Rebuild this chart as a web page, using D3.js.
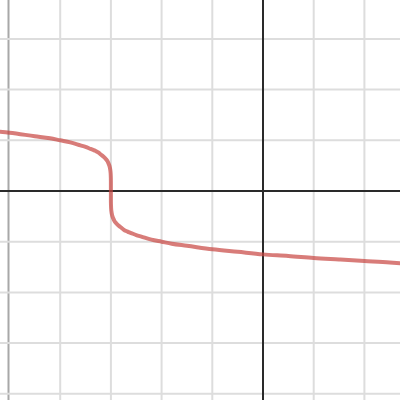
<!DOCTYPE html>
<html><head><meta charset="utf-8">
<script src="https://cdn.jsdelivr.net/npm/d3@7"></script>
<style>html,body{margin:0;padding:0;background:#fff;overflow:hidden}</style>
</head><body>
<svg id="c" width="400" height="400"></svg>
<script>
const xTicks = [-5, -4, -3, -2, -1, 1, 2];
const yTicks = [3, 2, 1, -1, -2, -3, -4];
const curveX = [-5.2, -5.0, -4.5, -4.2, -4.0, -3.8, -3.6, -3.5, -3.4, -3.35, -3.3, -3.25, -3.2, -3.15, -3.1, -3.07, -3.05, -3.03, -3.02, -3.01, -3.005, -3.003, -3.001, -3.0002, -3.0,
  -2.9998, -2.999, -2.997, -2.995, -2.99, -2.98, -2.97, -2.95, -2.93, -2.9, -2.85, -2.8, -2.75, -2.7, -2.65, -2.6, -2.5, -2.4, -2.2, -2.0, -1.8, -1.5, -1.0, -0.5, 0, 0.5, 1.0, 1.5, 2.0, 2.5, 2.75];
const curveY = [1.17, 1.15, 1.08, 1.04, 1.0, 0.96, 0.90, 0.87, 0.83, 0.81, 0.79, 0.76, 0.72, 0.68, 0.63, 0.59, 0.55, 0.50, 0.46, 0.40, 0.35, 0.31, 0.25, 0.18, 0,
  -0.18, -0.25, -0.31, -0.35, -0.40, -0.46, -0.50, -0.55, -0.59, -0.63, -0.68, -0.72, -0.76, -0.79, -0.81, -0.83, -0.87, -0.90, -0.96, -1.0, -1.04, -1.08, -1.15, -1.20, -1.25, -1.28, -1.32, -1.35, -1.38, -1.41, -1.43];

const unit = 50.7;
const x = d3.scaleLinear().domain([0, 1]).range([263, 263 + unit]);
const y = d3.scaleLinear().domain([0, 1]).range([191, 191 - unit]);
const svg = d3.select('#c');

svg.append('g').selectAll('line').data(xTicks).join('line')
  .attr('x1', d => d === -5 ? x(d) - 1 : x(d)).attr('x2', d => d === -5 ? x(d) - 1 : x(d)).attr('y1', 0).attr('y2', 400)
  .attr('stroke', d => d === -5 ? '#a8a8a8' : '#dddddd').attr('stroke-width', 2);
svg.append('g').selectAll('line').data(yTicks).join('line')
  .attr('y1', d => y(d)).attr('y2', d => y(d)).attr('x1', 0).attr('x2', 400)
  .attr('stroke', '#dddddd').attr('stroke-width', 2);
// axes
svg.append('line').attr('x1', 0).attr('x2', 400).attr('y1', y(0)).attr('y2', y(0))
  .attr('stroke', '#2a2a2a').attr('stroke-width', 2);
svg.append('line').attr('y1', 0).attr('y2', 400).attr('x1', x(0)).attr('x2', x(0))
  .attr('stroke', '#2a2a2a').attr('stroke-width', 2);

const pts = curveX.map((v, i) => [v, curveY[i]]);
svg.append('path').datum(pts)
  .attr('d', d3.line().x(d => x(d[0])).y(d => y(d[1])).curve(d3.curveMonotoneX))
  .attr('fill', 'none').attr('stroke', '#c74440').attr('stroke-opacity', 0.7)
  .attr('stroke-width', 4).attr('stroke-linecap', 'round').attr('stroke-linejoin', 'round');
</script>
</body></html>
